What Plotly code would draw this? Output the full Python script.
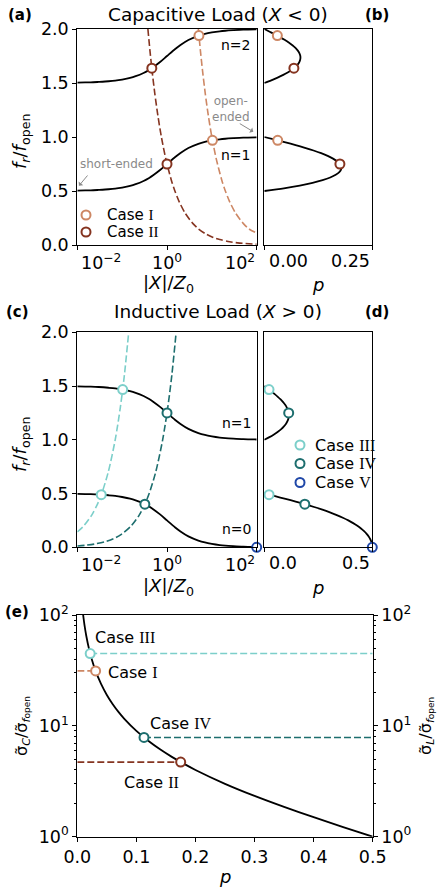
import plotly.graph_objects as go

W, H = 439, 888

# ---------------- data ----------------
# normalised load reactance |X|/Z0 for the resonance curves
x_load = [0.01, 0.015, 0.02, 0.03, 0.05, 0.07, 0.1, 0.15, 0.2, 0.3, 0.4, 0.5, 0.7,
          1, 1.5, 2, 3, 5, 7, 10, 15, 20, 30, 50, 100]
f_cap_n1 = [0.503, 0.505, 0.506, 0.510, 0.516, 0.522, 0.532, 0.547, 0.563, 0.593, 0.621, 0.648, 0.694,
            0.75, 0.813, 0.852, 0.898, 0.937, 0.955, 0.968, 0.979, 0.984, 0.989, 0.994, 0.997]
f_cap_n2 = [1.503, 1.505, 1.506, 1.510, 1.516, 1.522, 1.532, 1.547, 1.563, 1.593, 1.621, 1.648, 1.694,
            1.75, 1.813, 1.852, 1.898, 1.937, 1.955, 1.968, 1.979, 1.984, 1.989, 1.994, 1.997]
f_ind_n0 = [0.497, 0.495, 0.494, 0.491, 0.484, 0.478, 0.468, 0.453, 0.437, 0.407, 0.379, 0.352, 0.306,
            0.25, 0.187, 0.148, 0.102, 0.063, 0.045, 0.032, 0.021, 0.016, 0.011, 0.006, 0.003]
f_ind_n1 = [1.497, 1.495, 1.494, 1.491, 1.484, 1.478, 1.468, 1.453, 1.437, 1.407, 1.379, 1.352, 1.306,
            1.25, 1.187, 1.148, 1.102, 1.063, 1.045, 1.032, 1.021, 1.016, 1.011, 1.006, 1.003]

# dashed load lines (fixed C or L)
x_case1_line = [5, 5.556, 6.25, 7.143, 8.333, 10, 12.5, 16.67, 20, 25, 33.33, 50, 66.67, 100]
f_case1_line = [2.0, 1.8, 1.6, 1.4, 1.2, 1.0, 0.8, 0.6, 0.5, 0.4, 0.3, 0.2, 0.15, 0.11]
x_case2_line = [0.375, 0.4167, 0.4688, 0.5357, 0.625, 0.75, 0.9375, 1.25, 1.5, 1.875, 2.5, 3.75,
                5, 7.5, 10.71, 15, 25, 37.5, 100]
f_case2_line = [2.0, 1.8, 1.6, 1.4, 1.2, 1.0, 0.8, 0.6, 0.5, 0.4, 0.3, 0.2,
                0.15, 0.1, 0.07, 0.05, 0.03, 0.02, 0.0075]
x_case3_line = [0.01, 0.014, 0.021, 0.028, 0.035, 0.049, 0.07, 0.091, 0.112, 0.14]
f_case3_line = [0.143, 0.2, 0.3, 0.4, 0.5, 0.7, 1.0, 1.3, 1.6, 2.0]
x_case4_line = [0.01, 0.016, 0.024, 0.04, 0.064, 0.096, 0.16, 0.24, 0.32, 0.4, 0.56, 0.8, 1.04, 1.28, 1.6]
f_case4_line = [0.0125, 0.02, 0.03, 0.05, 0.08, 0.12, 0.2, 0.3, 0.4, 0.5, 0.7, 1.0, 1.3, 1.6, 2.0]

# participation ratio p vs f
f_b_n1 = [0.5, 0.525, 0.55, 0.575, 0.6, 0.625, 0.65, 0.675, 0.7, 0.725, 0.75,
          0.775, 0.8, 0.825, 0.85, 0.875, 0.9, 0.925, 0.95, 0.975, 1.0]
p_b_n1 = [0.0, 0.0453, 0.0821, 0.1117, 0.1349, 0.1526, 0.1653, 0.1736, 0.1778, 0.1782, 0.1751,
          0.1686, 0.1591, 0.1467, 0.1316, 0.1140, 0.0941, 0.0725, 0.0492, 0.0249, 0.0]
f_b_n2 = [1.5, 1.525, 1.55, 1.575, 1.6, 1.625, 1.65, 1.675, 1.7, 1.725, 1.75,
          1.775, 1.8, 1.825, 1.85, 1.875, 1.9, 1.925, 1.95, 1.975, 2.0]
p_b_n2 = [0.0, 0.0161, 0.0308, 0.0439, 0.0552, 0.0648, 0.0724, 0.0781, 0.0818, 0.0835, 0.0834,
          0.0814, 0.0776, 0.0721, 0.0651, 0.0566, 0.0469, 0.0362, 0.0246, 0.0124, 0.0]
f_d_n0 = [0.0, 0.025, 0.05, 0.075, 0.1, 0.125, 0.15, 0.175, 0.2, 0.225, 0.25,
          0.275, 0.3, 0.325, 0.35, 0.375, 0.4, 0.425, 0.45, 0.475, 0.5]
p_d_n0 = [0.5, 0.499, 0.4959, 0.4907, 0.4833, 0.4738, 0.4619, 0.4476, 0.4308, 0.4113, 0.3890,
          0.3637, 0.3354, 0.3038, 0.2689, 0.2308, 0.1896, 0.1453, 0.0985, 0.0498, 0.0]
f_d_n1 = [1.0, 1.025, 1.05, 1.075, 1.1, 1.125, 1.15, 1.175, 1.2, 1.225, 1.25,
          1.275, 1.3, 1.325, 1.35, 1.375, 1.4, 1.425, 1.45, 1.475, 1.5]
p_d_n1 = [0.0, 0.0237, 0.0447, 0.0630, 0.0784, 0.0909, 0.1007, 0.1077, 0.1120, 0.1137, 0.1129,
          0.1098, 0.1043, 0.0967, 0.0871, 0.0756, 0.0626, 0.0483, 0.0328, 0.0166, 0.0]

# sigma ratio vs p (panel e)
p_sigma = [0.0099, 0.012, 0.015, 0.02, 0.025, 0.03, 0.04, 0.05, 0.06, 0.07, 0.08, 0.1, 0.12,
           0.14, 0.16, 0.18, 0.2, 0.25, 0.3, 0.35, 0.4, 0.45, 0.5]
sigma_ratio = [100.0, 82.3, 65.7, 49.0, 39.0, 32.3, 24.0, 19.0, 15.67, 13.29, 11.5, 9.0, 7.33,
               6.14, 5.25, 4.56, 4.0, 3.0, 2.333, 1.857, 1.5, 1.222, 1.0]

# case markers
case1_x = [10.32, 5.157]; case1_f = [0.969, 1.939]; case1_p = [0.031, 0.0302]
case2_x = [1.0, 0.4584];  case2_f = [0.75, 1.637];  case2_p = [0.175, 0.0685]
case3_x = [0.0342, 0.1027]; case3_f = [0.489, 1.467]; case3_p = [0.022, 0.0218]
case4_x = [0.3208, 1.0];  case4_f = [0.401, 1.25];  case4_p = [0.1876, 0.1129]
case5_x = [100];          case5_f = [0.0];          case5_p = [0.5]
sig_case1 = (0.031, 31.3)
sig_case2 = (0.175, 4.71)
sig_case3 = (0.0218, 44.9)
sig_case4 = (0.1129, 7.86)

# ---------------- styles ----------------
C1 = "#cd8764"
C2 = "#853420"
C3 = "#7ccfca"
C4 = "#1d6e6e"
C5 = "#1f47a8"
FONT = "DejaVu Sans"
SERIF = "Liberation Serif"
DASH = "7px,3px"
TICK = 17.5
LAB = 18


def X(px):
    return px / W


def Y(py):
    return 1 - py / H


def case_name(num):
    return 'Case <span style="font-family:%s">%s</span>' % (SERIF, num)


fig = go.Figure()


def line(x, y, xa, ya, color="black", width=1.8, dash=None):
    fig.add_trace(go.Scatter(x=x, y=y, xaxis=xa, yaxis=ya, mode="lines",
                             line=dict(color=color, width=width, dash=dash, shape="spline", smoothing=0.8),
                             showlegend=False, hoverinfo="skip"))


def marks(x, y, xa, ya, color, name=""):
    fig.add_trace(go.Scatter(x=x, y=y, xaxis=xa, yaxis=ya, mode="markers",
                             marker=dict(symbol="circle", size=9, color="white",
                                         line=dict(color=color, width=2)),
                             cliponaxis=False, name=name, showlegend=False))


# panel a
line(x_load, f_cap_n1, "x", "y")
line(x_load, f_cap_n2, "x", "y")
line(x_case2_line, f_case2_line, "x", "y", C2, 1.6, DASH)
line(x_case1_line, f_case1_line, "x", "y", C1, 1.6, DASH)
marks(case1_x, case1_f, "x", "y", C1, "Case I")
marks(case2_x, case2_f, "x", "y", C2, "Case II")
# panel b
line(p_b_n1, f_b_n1, "x2", "y2")
line(p_b_n2, f_b_n2, "x2", "y2")
marks(case1_p, case1_f, "x2", "y2", C1, "Case I")
marks(case2_p, case2_f, "x2", "y2", C2, "Case II")
# panel c
line(x_load, f_ind_n0, "x3", "y3")
line(x_load, f_ind_n1, "x3", "y3")
line(x_case3_line, f_case3_line, "x3", "y3", C3, 1.6, DASH)
line(x_case4_line, f_case4_line, "x3", "y3", C4, 1.6, DASH)
marks(case3_x, case3_f, "x3", "y3", C3, "Case III")
marks(case4_x, case4_f, "x3", "y3", C4, "Case IV")
marks(case5_x, case5_f, "x3", "y3", C5, "Case V")
# panel d
line(p_d_n0, f_d_n0, "x4", "y4")
line(p_d_n1, f_d_n1, "x4", "y4")
marks(case3_p, case3_f, "x4", "y4", C3, "Case III")
marks(case4_p, case4_f, "x4", "y4", C4, "Case IV")
marks(case5_p, case5_f, "x4", "y4", C5, "Case V")
# panel e
line(p_sigma, sigma_ratio, "x5", "y5")
line([sig_case3[0], 0.5], [sig_case3[1]] * 2, "x5", "y5", C3, 1.6, DASH)
line([0, sig_case1[0]], [sig_case1[1]] * 2, "x5", "y5", C1, 1.6, DASH)
line([sig_case4[0], 0.5], [sig_case4[1]] * 2, "x5", "y5", C4, 1.6, DASH)
line([0, sig_case2[0]], [sig_case2[1]] * 2, "x5", "y5", C2, 1.6, DASH)
for (p, s), c, nm in [(sig_case3, C3, "Case III"), (sig_case1, C1, "Case I"),
                      (sig_case4, C4, "Case IV"), (sig_case2, C2, "Case II")]:
    marks([p], [s], "x5", "y5", c, nm)

# ---------------- axes ----------------
ax_common = dict(showline=True, linecolor="black", linewidth=1.1, mirror=True, showgrid=False,
                 zeroline=False, ticks="outside", ticklen=4, tickwidth=1, tickcolor="black",
                 tickfont=dict(family=FONT, size=TICK, color="black"))

xa_l = [77.3, 256.7]
xa_r = [264.3, 372.3]
ya_top = [29, 245]
ya_mid = [332.3, 547.3]


def xdom(p):
    return [X(p[0]), X(p[1])]


def ydom(p):
    return [Y(p[1]), Y(p[0])]


fvals = [0, 0.5, 1.0, 1.5, 2.0]
ftext = ["0.0", "0.5", "1.0", "1.5", "2.0"]
minor_log = dict(ticks="outside", ticklen=2, tickcolor="black",
                 tickvals=[2, 3, 4, 5, 6, 7, 8, 9, 20, 30, 40, 50, 60, 70, 80, 90])
dec_text = ["10<sup>0</sup>", "10<sup>1</sup>", "10<sup>2</sup>"]

fig.update_layout(
    xaxis=dict(ax_common, type="log", range=[-2, 2], domain=xdom(xa_l), anchor="y",
               tickvals=[0.01, 1, 100], showticklabels=False),
    yaxis=dict(ax_common, range=[0, 2], domain=ydom(ya_top), anchor="x", tickvals=fvals, ticktext=ftext),
    xaxis2=dict(ax_common, range=[0, 0.25], domain=xdom(xa_r), anchor="y2",
                tickvals=[0, 0.25], showticklabels=False),
    yaxis2=dict(ax_common, range=[0, 2], domain=ydom(ya_top), anchor="x2", ticks="", showticklabels=False),
    xaxis3=dict(ax_common, type="log", range=[-2, 2], domain=xdom(xa_l), anchor="y3",
                tickvals=[0.01, 1, 100], showticklabels=False),
    yaxis3=dict(ax_common, range=[0, 2], domain=ydom(ya_mid), anchor="x3", tickvals=fvals, ticktext=ftext),
    xaxis4=dict(ax_common, range=[0, 0.5], domain=xdom(xa_r), anchor="y4",
                tickvals=[0, 0.5], showticklabels=False),
    yaxis4=dict(ax_common, range=[0, 2], domain=ydom(ya_mid), anchor="x4", ticks="", showticklabels=False),
    xaxis5=dict(ax_common, range=[0, 0.5], domain=xdom([77.3, 372.7]), anchor="y5",
                tickvals=[0, 0.1, 0.2, 0.3, 0.4, 0.5], ticktext=["0.0", "0.1", "0.2", "0.3", "0.4", "0.5"]),
    yaxis5=dict(ax_common, type="log", range=[0, 2], domain=ydom([615, 836.7]), anchor="x5",
                tickvals=[1, 10, 100], ticktext=dec_text, minor=minor_log),
    yaxis6=dict(ax_common, type="log", range=[0, 2], domain=ydom([615, 836.7]), anchor="x5",
                overlaying="y5", side="right", tickvals=[1, 10, 100], ticktext=dec_text, minor=minor_log),
)

# invisible trace so the right-hand axis of (e) is drawn
fig.add_trace(go.Scatter(x=[0.5], y=[1], xaxis="x5", yaxis="y6", mode="markers",
                         marker=dict(size=0.1, opacity=0), showlegend=False, hoverinfo="skip"))

# ---------------- annotations ----------------
ann = []
shapes = []


def txt(x, y, text, size=16, bold=False, angle=0, color="black", xanchor="center", yanchor="middle"):
    if bold:
        text = "<b>" + text + "</b>"
    ann.append(dict(x=X(x), y=Y(y), xref="paper", yref="paper", text=text, showarrow=False,
                    font=dict(family=FONT, size=size, color=color), textangle=angle,
                    xanchor=xanchor, yanchor=yanchor))


def tick(xref, yref, x, text, anchor, shift=0):
    ann.append(dict(x=x, y=0, xref=xref, yref=yref + " domain", text=text, showarrow=False,
                    font=dict(family=FONT, size=TICK, color="black"), xanchor=anchor, yanchor="top",
                    yshift=-4, xshift=shift))


def legend_item(cx, cy, color, label, size, gap):
    r = 4.5
    shapes.append(dict(type="circle", xref="paper", yref="paper",
                       x0=X(cx - r), x1=X(cx + r), y0=Y(cy + r), y1=Y(cy - r),
                       line=dict(color=color, width=2), fillcolor="white"))
    txt(cx + gap, cy, case_name(label), size, xanchor="left")


def arrow(x, y, xref, yref, ax, ay, color):
    ann.append(dict(x=x, y=y, xref=xref, yref=yref, axref="pixel", ayref="pixel", text=" ",
                    showarrow=True, ax=ax, ay=ay, arrowhead=1, arrowsize=1, arrowwidth=1,
                    arrowcolor=color, font=dict(size=1)))


# x tick labels for a-d (edge labels kept inside the panel)
tick("x", "y", -2, "10<sup>\u22122</sup>", "left", 2)
tick("x", "y", 0, "10<sup>0</sup>", "center")
tick("x", "y", 2, "10<sup>2</sup>", "right")
tick("x3", "y3", -2, "10<sup>\u22122</sup>", "left", 2)
tick("x3", "y3", 0, "10<sup>0</sup>", "center")
tick("x3", "y3", 2, "10<sup>2</sup>", "right")
tick("x2", "y2", 0, "0.00", "left", 3)
tick("x2", "y2", 0.25, "0.25", "right")
tick("x4", "y4", 0, "0.0", "left", 3)
tick("x4", "y4", 0.5, "0.5", "right")

# panel labels and titles
txt(20, 15, "(a)", 15, True)
txt(377, 15, "(b)", 15, True)
txt(17, 312, "(c)", 15, True)
txt(377, 312, "(d)", 15, True)
txt(17, 612, "(e)", 15, True)
txt(218, 15, "Capacitive Load (<i>X</i> &lt; 0)", 18.5)
txt(218, 312, "Inductive Load (<i>X</i> &gt; 0)", 18.5)

# axis titles
fr = "<i>f</i><sub><i>r</i></sub>/<i>f</i><sub>open</sub>"
txt(21, 142, fr, LAB, angle=-90)
txt(21, 445, fr, LAB, angle=-90)
txt(168, 284, "|<i>X</i>|/<i>Z</i><sub>0</sub>", LAB)
txt(168, 587, "|<i>X</i>|/<i>Z</i><sub>0</sub>", LAB)
txt(318, 284, "<i>p</i>", LAB)
txt(318, 587, "<i>p</i>", LAB)
txt(225, 876, "<i>p</i>", LAB)
sub_open = '<sub><i>f</i><span style="font-size:9px">open</span></sub>'
txt(22, 726, "\u03c3\u0303<sub><i>C</i></sub>/\u03c3\u0303" + sub_open, 16, angle=-90)
txt(426, 726, "\u03c3\u0303<sub><i>L</i></sub>/\u03c3\u0303" + sub_open, 16, angle=-90)

# mode labels
txt(236, 45, "n=2", 14)
txt(236, 155, "n=1", 14)
txt(237, 423, "n=1", 14)
txt(237, 529, "n=0", 14)

# case labels in (e)
txt(93, 637, case_name("III"), 16, xanchor="left")
txt(106, 672, case_name("I"), 16, xanchor="left")
txt(148, 723, case_name("IV"), 16, xanchor="left")
txt(122, 782, case_name("II"), 16, xanchor="left")

# legends
legend_item(86, 215, C1, "I", 15, 19)
legend_item(86, 232, C2, "II", 15, 19)
legend_item(300, 445, C3, "III", 16, 13)
legend_item(300, 463.5, C4, "IV", 16, 13)
legend_item(300, 482.5, C5, "V", 16, 13)

# short-ended / open-ended notes with arrows
GRAY = "#8a8a8a"
txt(116, 164, "short-ended", 12, color=GRAY)
txt(231, 109, "open-<br>ended", 12, color=GRAY)
arrow(-1.962, 0.549, "x", "y", 10, -12, GRAY)
arrow(1.924, 1.049, "x", "y", -15, -9, GRAY)

fig.update_layout(
    annotations=ann, shapes=shapes,
    width=W, height=H, margin=dict(l=0, r=0, t=0, b=0),
    paper_bgcolor="white", plot_bgcolor="white", template="none",
    font=dict(family=FONT, size=14, color="black"),
    showlegend=False,
)

fig.write_html("out.html")
